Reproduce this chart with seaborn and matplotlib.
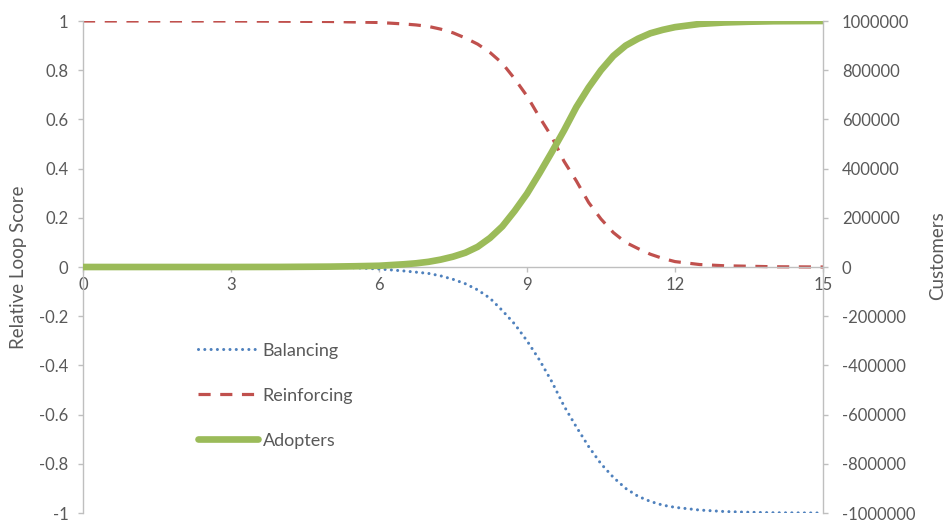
import matplotlib
matplotlib.use("Agg")
import matplotlib.pyplot as plt
import seaborn as sns
import numpy as np

# Simulation time (years)
time = [0, 1, 2, 3, 4, 5, 5.5, 6.0, 6.25, 6.5, 6.75, 7.0, 7.25, 7.5, 7.75,
        8.0, 8.25, 8.5, 8.75, 9.0, 9.25, 9.5, 9.75, 10.0, 10.25, 10.5, 10.75,
        11.0, 11.25, 11.5, 11.75, 12.0, 12.5, 13.0, 13.5, 14.0, 15.0]

# Relative loop scores
balancing = [0, 0, 0, 0, 0, -0.001, -0.003, -0.008, -0.012, -0.016, -0.021,
             -0.026, -0.036, -0.05, -0.068, -0.093, -0.127, -0.177, -0.232,
             -0.30, -0.377, -0.465, -0.565, -0.65, -0.73, -0.80, -0.855,
             -0.90, -0.932, -0.953, -0.968, -0.977, -0.988, -0.994, -0.997,
             -0.999, -1.0]
reinforcing = [1.0, 1.0, 1.0, 1.0, 0.999, 0.998, 0.996, 0.994, 0.991, 0.988,
               0.984, 0.978, 0.967, 0.952, 0.931, 0.906, 0.872, 0.828, 0.765,
               0.695, 0.61, 0.53, 0.43, 0.35, 0.262, 0.195, 0.14, 0.10,
               0.075, 0.052, 0.035, 0.022, 0.01, 0.005, 0.003, 0.001, 0.0]

# Adopted customers
adopters = [0, 0, 0, 0, 300, 1500, 3000, 5000, 8000, 11000, 15000, 21000,
            30000, 42000, 58000, 82000, 118000, 165000, 228000, 298000,
            380000, 466000, 555000, 650000, 730000, 800000, 858000, 900000,
            928000, 950000, 964000, 975000, 988000, 994000, 997000, 999000,
            1000000]

x_ticks = [0, 3, 6, 9, 12, 15]
left_ticks = [1, 0.8, 0.6, 0.4, 0.2, 0, -0.2, -0.4, -0.6, -0.8, -1]
right_ticks = [1000000, 800000, 600000, 400000, 200000, 0, -200000,
               -400000, -600000, -800000, -1000000]

BLUE = "#4F81BD"
RED = "#C0504D"
GREEN = "#9BBB59"
TEXT = "#595959"
SPINE = "#BFBFBF"

sns.set_theme(style="white")
plt.rcParams["font.family"] = ["Lato", "DejaVu Sans"]
plt.rcParams["font.size"] = 12

W, H = 949, 522
fig = plt.figure(figsize=(W / 100, H / 100), dpi=100)
ax = fig.add_axes([83 / W, 9 / H, 740 / W, 492 / H])
ax2 = ax.twinx()

sns.lineplot(x=time, y=balancing, ax=ax, color=BLUE, linewidth=2.2)
bal_line = ax.lines[-1]
bal_line.set_dashes((0.01, 2.05))
bal_line.set_dash_capstyle("round")

sns.lineplot(x=time, y=reinforcing, ax=ax, color=RED, linewidth=2.3)
rein_line = ax.lines[-1]
rein_line.set_dashes((3.8, 3.0))

sns.lineplot(x=time, y=adopters, ax=ax2, color=GREEN, linewidth=4.8)
adopt_line = ax2.lines[-1]
adopt_line.set_solid_capstyle("round")

ax.set_xlim(0, 15)
ax.set_ylim(-1, 1)
ax2.set_ylim(-1000000, 1000000)

ax.set_xticks(x_ticks)
ax.set_xticklabels([str(t) for t in x_ticks])
ax.set_yticks(left_ticks)
ax.set_yticklabels([f"{v:g}" for v in left_ticks])
ax2.set_yticks(right_ticks)
ax2.set_yticklabels([str(v) for v in right_ticks])

for s in ["top", "right"]:
    ax.spines[s].set_visible(False)
for s in ["top", "left", "bottom"]:
    ax2.spines[s].set_visible(False)
ax.spines["bottom"].set_position(("data", 0))
ax.spines["bottom"].set_color(SPINE)
ax.spines["left"].set_color(SPINE)
ax2.spines["right"].set_color(SPINE)
for sp in [ax.spines["bottom"], ax.spines["left"], ax2.spines["right"]]:
    sp.set_linewidth(1.0)

ax.tick_params(axis="x", direction="out", length=3.6, width=1.0, color=SPINE,
               labelcolor=TEXT, labelsize=12, pad=3.5, bottom=True)
ax.tick_params(axis="y", direction="out", length=3.6, width=1.0, color=SPINE,
               labelcolor=TEXT, labelsize=12, pad=7, left=True)
ax2.tick_params(axis="y", direction="out", length=3.6, width=1.0, color=SPINE,
                labelcolor=TEXT, labelsize=12, pad=10, right=True)

ax.set_ylabel("Relative Loop Score", color=TEXT, fontsize=13.5)
ax2.set_ylabel("Customers", color=TEXT, fontsize=13.5)
ax.yaxis.set_label_coords(-0.075, 0.5)
ax2.yaxis.set_label_coords(1.143, 0.524)
ax.set_xlabel("")

if ax.get_legend():
    ax.get_legend().remove()
leg = ax2.legend(handles=[bal_line, rein_line, adopt_line],
                 labels=["Balancing", "Reinforcing", "Adopters"],
                 loc="upper left", bbox_to_anchor=(0.1554, 0.346),
                 frameon=False, fontsize=13, handlelength=3.3,
                 handletextpad=0.28, labelspacing=1.6, borderpad=0,
                 borderaxespad=0)
for t in leg.get_texts():
    t.set_color(TEXT)

fig.savefig("out.png", dpi=100)
